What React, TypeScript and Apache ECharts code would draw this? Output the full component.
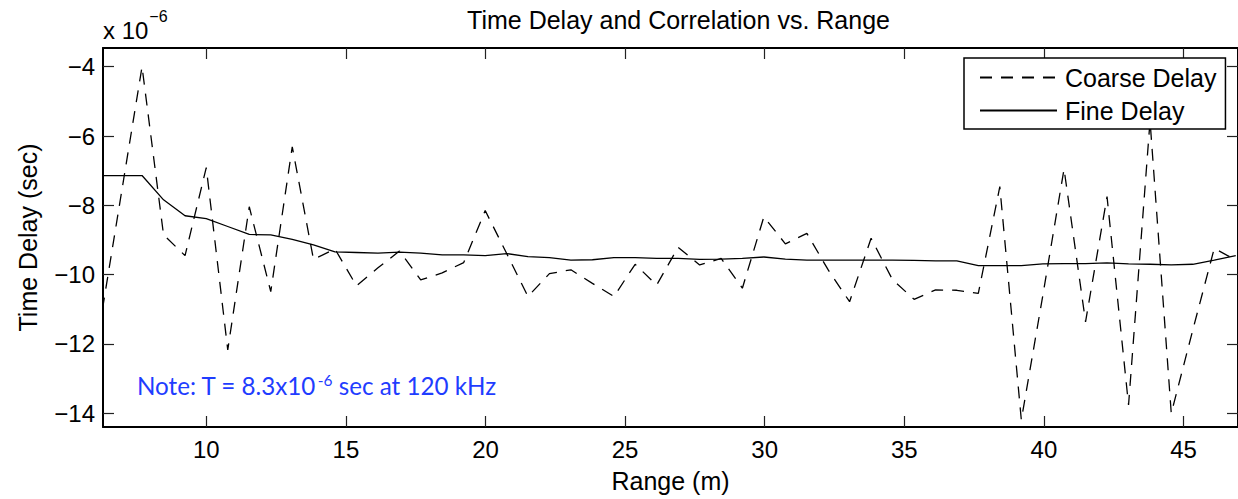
import React, { useEffect, useRef } from "react";
import * as echarts from "echarts";

// Range samples (m)
const rangeM = [
  6.16, 6.93, 7.7, 8.47, 9.24, 10.0, 10.77, 11.54, 12.31, 13.08,
  13.84, 14.61, 15.38, 16.15, 16.92, 17.68, 18.45, 19.22, 19.99, 20.76,
  21.52, 22.29, 23.06, 23.83, 24.6, 25.36, 26.13, 26.9, 27.67, 28.44,
  29.2, 29.97, 30.74, 31.51, 32.28, 33.04, 33.81, 34.58, 35.35, 36.12,
  36.88, 37.65, 38.42, 39.19, 39.96, 40.72, 41.49, 42.26, 43.03, 43.8,
  44.56, 45.33, 46.1, 46.87,
];

// Time delay values in units of 1e-6 s
const coarseDelay = [
  -11.6, -7.8, -4.0, -8.85, -9.45, -6.91, -12.17, -8.04, -10.49, -6.31,
  -9.56, -9.26, -10.32, -9.8, -9.32, -10.15, -9.95, -9.65, -8.15, -9.39,
  -10.63, -9.97, -9.86, -10.25, -10.63, -9.7, -10.3, -9.21, -9.72, -9.53,
  -10.39, -8.33, -9.11, -8.81, -9.87, -10.78, -8.95, -10.15, -10.71, -10.44,
  -10.45, -10.54, -7.46, -14.19, -10.6, -6.95, -11.36, -7.75, -13.76, -5.56,
  -14.0, -11.6, -9.24, -9.58,
];

const fineDelay = [
  -7.14, -7.14, -7.14, -7.84, -8.3, -8.38, -8.61, -8.84, -8.85, -8.98,
  -9.14, -9.34, -9.36, -9.38, -9.35, -9.38, -9.43, -9.43, -9.45, -9.39,
  -9.48, -9.51, -9.58, -9.57, -9.51, -9.51, -9.53, -9.53, -9.56, -9.55,
  -9.53, -9.49, -9.55, -9.58, -9.58, -9.58, -9.58, -9.58, -9.59, -9.6,
  -9.6, -9.74, -9.74, -9.74, -9.69, -9.68, -9.68, -9.66, -9.69, -9.7,
  -9.72, -9.7, -9.58, -9.45,
];

const xTicks = [10, 15, 20, 25, 30, 35, 40, 45];
const yTicks = [-14, -12, -10, -8, -6, -4];

const seriesNames = ["Coarse Delay", "Fine Delay"];
const titleText = "Time Delay and Correlation vs. Range";
const xName = "Range (m)";
const yName = "Time Delay (sec)";
const exponentBase = "x 10";
const exponentSup = "\u22126";
const notePre = "Note: T = 8.3x10";
const noteSup = "-6";
const notePost = " sec at 120 kHz";

export default function App() {
  const ref = useRef<HTMLDivElement>(null);

  useEffect(() => {
    document.body.style.margin = "0";
    if (!ref.current) return;
    const chart = echarts.init(ref.current, null, { renderer: "svg" });

    const font = "'Liberation Sans', Arial, Helvetica, sans-serif";
    const noteFont = "Lato, 'Open Sans', sans-serif";
    const ctx = document.createElement("canvas").getContext("2d")!;
    const measure = (t: string, size: number, fam: string) => {
      ctx.font = `${size}px ${fam}`;
      return ctx.measureText(t).width;
    };

    const plotLeft = 103;
    const plotTop = 48;
    const plotW = 1151;
    const plotH = 379;

    const noteSize = 24.2;
    const noteSupSize = 15.5;
    const noteX = 137;
    const noteY = 385;
    const preW = measure(notePre, noteSize, noteFont);
    const supW = measure(noteSup, noteSupSize, noteFont);
    const noteColor = "#1f3dff";

    const expX = 103;
    const expW = measure(exponentBase, 24, font);

    const axisCommon = {
      type: "value" as const,
      splitLine: { show: false },
      axisLine: { show: true, onZero: false, lineStyle: { color: "#000", width: 2 } },
    };

    const tickStyle = (values: number[]) => ({
      show: true,
      inside: true,
      length: 11,
      customValues: values,
      lineStyle: { color: "#222", width: 1.2 },
    });

    const option: any = {
      animation: false,
      backgroundColor: "#fff",
      grid: { left: plotLeft, top: plotTop, width: plotW, height: plotH, containLabel: false },
      xAxis: [
        {
          ...axisCommon,
          position: "bottom",
          min: 6.302,
          max: 46.95,
          axisTick: tickStyle(xTicks),
          axisLabel: {
            show: true,
            customValues: xTicks,
            fontSize: 24,
            color: "#000",
            fontFamily: font,
            margin: 10,
          },
          name: xName,
          nameLocation: "middle",
          nameGap: 41,
          nameTextStyle: { fontSize: 25, color: "#000", fontFamily: font },
        },
        {
          ...axisCommon,
          position: "top",
          min: 6.302,
          max: 46.95,
          axisTick: tickStyle(xTicks),
          axisLabel: { show: false },
        },
      ],
      yAxis: [
        {
          ...axisCommon,
          position: "left",
          min: -14.395,
          max: -3.46,
          axisTick: tickStyle(yTicks),
          axisLabel: {
            show: true,
            customValues: yTicks,
            fontSize: 24,
            color: "#000",
            fontFamily: font,
            margin: 8,
            formatter: (v: number) => String(v).replace("-", "\u2212"),
          },
          name: yName,
          nameLocation: "middle",
          nameGap: 63,
          nameRotate: 90,
          nameTextStyle: { fontSize: 25, color: "#000", fontFamily: font },
        },
        {
          ...axisCommon,
          position: "right",
          min: -14.395,
          max: -3.46,
          axisTick: tickStyle(yTicks),
          axisLabel: { show: false },
        },
      ],
      legend: {
        data: seriesNames,
        orient: "vertical",
        left: 964,
        top: 58,
        itemWidth: 77,
        itemHeight: 14,
        itemGap: 8,
        padding: [7, 9, 6, 15],
        backgroundColor: "#fff",
        borderColor: "#000",
        borderWidth: 1.5,
        borderRadius: 0,
        itemStyle: { opacity: 0 },
        textStyle: { fontSize: 25, color: "#000", fontFamily: font, padding: [0, 0, 0, 3] },
        selectedMode: false,
      },
      series: [
        {
          name: seriesNames[0],
          type: "line",
          data: rangeM.map((x, i) => [x, coarseDelay[i]]),
          symbol: "none",
          showSymbol: false,
          clip: true,
          lineStyle: { color: "#000", width: 1.3, type: [12, 9] },
          itemStyle: { color: "#000" },
        },
        {
          name: seriesNames[1],
          type: "line",
          data: rangeM.map((x, i) => [x, fineDelay[i]]),
          symbol: "none",
          showSymbol: false,
          clip: true,
          lineStyle: { color: "#000", width: 1.3, type: "solid" },
          itemStyle: { color: "#000" },
        },
      ],
      graphic: [
        {
          type: "text",
          x: 678.5,
          y: 19.5,
          style: {
            text: titleText,
            fontSize: 25,
            fontFamily: font,
            fill: "#000",
            align: "center",
            verticalAlign: "middle",
          },
        },
        {
          type: "text",
          x: expX,
          y: 30,
          style: {
            text: exponentBase,
            fontSize: 24,
            fontFamily: font,
            fill: "#000",
            align: "left",
            verticalAlign: "middle",
          },
        },
        {
          type: "text",
          x: expX + expW + 1,
          y: 16,
          style: {
            text: exponentSup,
            fontSize: 16,
            fontFamily: font,
            fill: "#000",
            align: "left",
            verticalAlign: "middle",
          },
        },
        {
          type: "text",
          x: noteX,
          y: noteY,
          z: 10,
          style: {
            text: notePre,
            fontSize: noteSize,
            fontFamily: noteFont,
            fill: noteColor,
            align: "left",
            verticalAlign: "middle",
          },
        },
        {
          type: "text",
          x: noteX + preW + 1,
          y: noteY - 5,
          z: 10,
          style: {
            text: noteSup,
            fontSize: noteSupSize,
            fontFamily: noteFont,
            fill: noteColor,
            align: "left",
            verticalAlign: "middle",
          },
        },
        {
          type: "text",
          x: noteX + preW + 1 + supW,
          y: noteY,
          z: 10,
          style: {
            text: notePost,
            fontSize: noteSize,
            fontFamily: noteFont,
            fill: noteColor,
            align: "left",
            verticalAlign: "middle",
          },
        },
      ],
    };

    chart.setOption(option);
    return () => chart.dispose();
  }, []);

  return <div ref={ref} style={{ width: 1238, height: 499 }} />;
}
